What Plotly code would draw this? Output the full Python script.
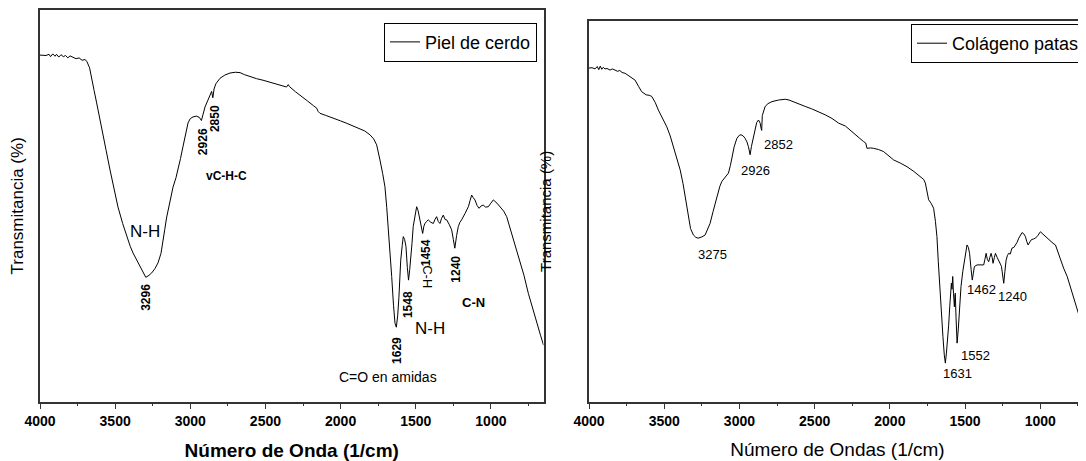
import plotly.graph_objects as go

# ---------------- data ----------------
piel_wn = [4000, 3960, 3940, 3930, 3915, 3900, 3890, 3875, 3860, 3845, 3830, 3815, 3800, 3780, 3760, 3740,
           3720, 3700, 3687, 3670, 3656, 3640, 3623, 3605, 3590, 3560, 3534, 3505, 3481, 3450, 3423, 3400,
           3381, 3348, 3320, 3296, 3275, 3257, 3235, 3215, 3195, 3182, 3170, 3157, 3135, 3115, 3095, 3082,
           3065, 3049, 3030, 3015, 3000, 2982, 2960, 2940, 2926, 2915, 2902, 2885, 2869, 2858, 2850, 2842,
           2830, 2815, 2802, 2770, 2736, 2700, 2669, 2640, 2603, 2560, 2516, 2470, 2425, 2390, 2360, 2348,
           2340, 2300, 2270, 2220, 2180, 2159, 2150, 2137, 2100, 2050, 2000, 1959, 1920, 1871, 1840, 1804,
           1780, 1760, 1748, 1738, 1720, 1705, 1693, 1683, 1670, 1660, 1648, 1638, 1629, 1620, 1612, 1600,
           1590, 1583, 1574, 1565, 1556, 1548, 1540, 1534, 1525, 1517, 1505, 1494, 1485, 1476, 1465, 1454,
           1446, 1439, 1428, 1417, 1400, 1383, 1372, 1361, 1350, 1339, 1328, 1317, 1305, 1294, 1278, 1261,
           1250, 1240, 1228, 1217, 1206, 1195, 1172, 1150, 1138, 1128, 1118, 1106, 1092, 1079, 1065, 1051,
           1035, 1017, 1000, 984, 960, 939, 915, 895, 873, 851, 830, 806, 780, 751, 720, 696, 670, 650]
piel_t = [88.7, 88.6, 88.9, 88.3, 89.0, 88.4, 88.9, 88.2, 88.8, 88.3, 88.6, 88.0, 88.5, 88.1, 87.8, 88.0,
          87.4, 87.6, 87.0, 85.5, 82.5, 79.8, 76.7, 73.5, 70.7, 64.8, 59.9, 54.5, 50.6, 46.5, 43.1, 40.8,
          39.1, 36.6, 34.5, 33.0, 33.5, 34.1, 35.2, 36.6, 39.0, 41.6, 45.0, 48.1, 52.5, 55.6, 58.0, 59.9,
          62.8, 65.7, 69.0, 71.7, 72.8, 73.2, 73.4, 73.1, 72.3, 74.2, 75.7, 77.2, 78.7, 79.6, 78.0, 80.2,
          81.5, 82.3, 82.9, 83.7, 84.2, 84.4, 84.3, 83.8, 83.3, 82.8, 82.4, 81.9, 81.4, 81.0, 80.7, 81.3,
          80.8, 79.5, 78.7, 77.2, 76.0, 75.4, 74.6, 74.1, 73.6, 72.8, 72.2, 71.6, 71.0, 70.3, 69.7, 68.7,
          67.7, 66.2, 64.5, 62.4, 59.0, 55.7, 50.5, 45.7, 39.0, 33.2, 26.0, 21.5, 20.5, 23.5, 28.0, 37.3,
          41.0, 43.2, 42.5, 40.7, 35.5, 32.3, 35.0, 37.3, 41.5, 45.7, 49.0, 50.7, 49.8, 48.2, 46.0, 44.0,
          45.8, 46.5, 47.0, 47.4, 46.8, 46.5, 47.5, 48.2, 47.0, 46.5, 47.8, 48.6, 47.5, 47.4, 46.3, 44.9,
          42.5, 40.3, 43.5, 45.7, 46.8, 47.4, 49.0, 50.7, 52.3, 53.6, 53.0, 52.4, 51.0, 50.3, 50.9, 51.1,
          50.6, 50.7, 51.6, 52.4, 51.6, 50.7, 49.6, 48.2, 45.5, 42.4, 39.9, 37.3, 33.5, 29.0, 24.8, 21.5,
          18.5, 16.0]

pat_wn = [4000, 3980, 3960, 3945, 3935, 3925, 3915, 3905, 3894, 3880, 3860, 3845, 3827, 3810, 3795, 3780,
          3760, 3740, 3720, 3694, 3670, 3650, 3620, 3600, 3583, 3560, 3539, 3510, 3483, 3460, 3439, 3415,
          3394, 3375, 3361, 3350, 3339, 3325, 3306, 3290, 3275, 3250, 3228, 3210, 3195, 3175, 3150, 3130,
          3117, 3095, 3073, 3060, 3050, 3035, 3017, 3000, 2989, 2975, 2962, 2950, 2940, 2929, 2920, 2911,
          2900, 2895, 2885, 2873, 2862, 2856, 2852, 2848, 2840, 2829, 2810, 2784, 2740, 2696, 2670, 2641,
          2600, 2563, 2520, 2474, 2430, 2385, 2340, 2296, 2270, 2241, 2200, 2175, 2160, 2152, 2130, 2108,
          2075, 2042, 2010, 1975, 1930, 1886, 1840, 1798, 1775, 1764, 1755, 1742, 1725, 1709, 1697, 1687,
          1678, 1669, 1658, 1647, 1638, 1631, 1624, 1616, 1609, 1602, 1596, 1591, 1587, 1582, 1577, 1571,
          1568, 1565, 1560, 1553, 1545, 1538, 1527, 1515, 1505, 1495, 1487, 1478, 1470, 1460, 1452, 1445,
          1438, 1420, 1410, 1390, 1376, 1368, 1360, 1352, 1343, 1335, 1327, 1320, 1314, 1305, 1298, 1287,
          1276, 1265, 1258, 1250, 1243, 1235, 1227, 1218, 1210, 1200, 1188, 1175, 1165, 1155, 1143, 1132,
          1121, 1110, 1099, 1090, 1081, 1070, 1060, 1045, 1032, 1015, 999, 982, 965, 950, 932, 915,
          899, 880, 866, 845, 821, 800, 777, 755, 733, 715, 696]
pat_t = [85.4, 85.5, 85.2, 85.8, 85.0, 85.9, 85.1, 85.6, 85.2, 85.3, 84.9, 85.2, 84.9, 84.6, 84.8, 84.3,
         84.1, 83.6, 83.0, 82.4, 80.8, 79.5, 78.7, 78.6, 78.3, 76.8, 74.9, 72.9, 70.7, 68.4, 65.7, 62.8,
         59.9, 56.5, 53.2, 50.2, 47.4, 45.2, 43.6, 43.0, 42.8, 43.1, 43.6, 45.0, 46.5, 49.5, 53.2, 55.8,
         57.0, 58.2, 59.1, 61.0, 63.2, 65.7, 67.8, 68.6, 68.7, 68.4, 67.8, 66.9, 65.7, 63.7, 65.8, 67.4,
         69.8, 70.7, 71.8, 72.4, 71.6, 70.3, 69.8, 73.5, 74.8, 75.8, 76.5, 77.0, 77.4, 77.6, 77.4, 77.0,
         76.5, 75.8, 75.2, 74.5, 73.7, 72.8, 71.6, 70.9, 70.0, 69.1, 67.8, 67.0, 66.6, 65.3, 65.4, 65.3,
         65.0, 64.5, 63.5, 62.4, 61.6, 60.7, 59.5, 58.2, 57.5, 56.6, 54.5, 52.4, 51.5, 50.3, 47.0, 43.2,
         37.0, 30.7, 24.0, 18.1, 13.5, 11.5, 14.0, 17.3, 21.0, 25.6, 29.0, 31.5, 30.0, 33.2, 29.0, 25.6,
         28.0, 29.0, 23.0, 16.5, 20.0, 24.0, 30.7, 34.5, 37.3, 39.5, 41.1, 40.5, 39.0, 35.0, 32.3, 34.0,
         35.7, 36.1, 36.1, 36.1, 36.1, 37.5, 39.0, 37.5, 36.9, 38.0, 39.0, 38.0, 36.5, 38.0, 39.0, 38.0,
         36.9, 36.3, 35.7, 33.5, 31.5, 34.5, 37.3, 38.5, 39.0, 38.8, 40.3, 40.5, 41.1, 41.7, 42.8, 43.6,
         44.2, 43.9, 43.2, 42.0, 41.1, 41.8, 42.4, 42.6, 42.8, 43.5, 44.4, 43.8, 43.2, 42.6, 41.9, 41.5,
         41.1, 39.0, 37.3, 35.3, 33.2, 30.7, 28.1, 25.2, 22.3, 19.8, 15.6]

tick_vals = [4000, 3500, 3000, 2500, 2000, 1500, 1000]
tick_text = ["4000", "3500", "3000", "2500", "2000", "1500", "1000"]

# peak labels: (text, wavenumber, transmittance, angle, size, bold)
piel_labels = [
    ("N-H", 3301, 44.4, 0, 17, False),
    ("3296", 3295, 28.1, -90, 12, True),
    ("2926", 2915, 66.9, -90, 12, True),
    ("2850", 2836, 72.9, -90, 12, True),
    ("vC-H-C", 2758, 58.5, 0, 12, True),
    ("1629", 1625, 14.8, -90, 12, True),
    ("1548", 1550, 26.1, -90, 12, True),
    ("1454", 1434, 39.2, -90, 12, True),
    ("C-H", 1427, 33.1, 90, 13, False),
    ("1240", 1234, 35.1, -90, 12, True),
    ("N-H", 1405, 20.3, 0, 17, False),
    ("C-N", 1119, 26.6, 0, 13, True),
    ("C=O en amidas", 1685, 8.0, 0, 14, False),
]
pat_labels = [
    ("3275", 3177, 38.6),
    ("2926", 2895, 59.7),
    ("2852", 2740, 66.3),
    ("1631", 1553, 8.9),
    ("1552", 1432, 13.5),
    ("1462", 1394, 30.0),
    ("1240", 1183, 28.1),
]

# ---------------- layout geometry (pixels) ----------------
# The page body has an 8px default margin, so the figure is shrunk by that amount
# and all window-pixel positions are shifted by it.
OFF = 8
WIN_W, WIN_H = 1086, 461
W, H = WIN_W - OFF, WIN_H - OFF
FONT = "Liberation Sans, Arial, sans-serif"


def fx(px):
    return (px - OFF) / W


def fy(py):
    return (H - (py - OFF)) / H


fig = go.Figure()
fig.add_trace(go.Scatter(x=piel_wn, y=piel_t, mode="lines", name="Piel de cerdo",
                         line=dict(color="black", width=1), xaxis="x", yaxis="y", legend="legend"))
fig.add_trace(go.Scatter(x=pat_wn, y=pat_t, mode="lines", name="Colágeno patas",
                         line=dict(color="black", width=1), xaxis="x2", yaxis="y2", legend="legend2"))

axis_common = dict(showgrid=False, zeroline=False, showline=True, linecolor="#333", linewidth=1.5,
                   automargin=False)

fig.update_layout(
    width=W, height=H,
    margin=dict(l=0, r=0, t=0, b=0, autoexpand=False),
    paper_bgcolor="white", plot_bgcolor="white",
    font=dict(family=FONT, color="black"),
    xaxis=dict(domain=[fx(40), fx(543.5)], range=[4000, 650], anchor="y",
               tickvals=tick_vals, ticktext=tick_text, ticks="outside", ticklen=6, tickwidth=1.2,
               tickcolor="#333", mirror=True,
               tickfont=dict(size=14, family="Liberation Sans, Arial", weight="bold"),
               minor=dict(dtick=250, tick0=0, ticks="outside", ticklen=3, tickcolor="#333"),
               title=dict(text="<b>Número de Onda (1/cm)</b>", font=dict(size=19), standoff=16),
               **axis_common),
    yaxis=dict(domain=[fy(401.7), fy(10)], range=[1.83, 100.0], anchor="x",
               showticklabels=False, ticks="", mirror=True,
               title=dict(text="Transmitancia (%)", font=dict(size=17), standoff=10),
               **axis_common),
    xaxis2=dict(domain=[fx(589), 1.0], range=[4000, 696], anchor="y2",
                tickvals=tick_vals, ticktext=tick_text, ticks="outside", ticklen=6, tickwidth=1.2,
                tickcolor="#333", mirror=True,
                tickfont=dict(size=14, family="Liberation Sans, Arial", weight="bold"),
                minor=dict(dtick=250, tick0=0, ticks="outside", ticklen=3, tickcolor="#333"),
                title=dict(text="Número de Ondas (1/cm)", font=dict(size=19), standoff=14),
                **axis_common),
    yaxis2=dict(domain=[fy(401.7), fy(21)], range=[1.83, 97.2], anchor="x2",
                showticklabels=False, ticks="", mirror=False,
                title=dict(text="Transmitancia (%)", font=dict(size=15), standoff=32),
                **axis_common),
    legend=dict(x=fx(537), y=fy(22.7), xanchor="right", yanchor="top",
                bgcolor="white", bordercolor="black", borderwidth=1,
                font=dict(size=18), itemwidth=30, tracegroupgap=0),
    legend2=dict(x=fx(1085), y=fy(24), xanchor="right", yanchor="top",
                 bgcolor="white", bordercolor="black", borderwidth=1,
                 font=dict(size=18), itemwidth=30, tracegroupgap=0),
    showlegend=True,
)

for text, xw, yt, ang, size, bold in piel_labels:
    fig.add_annotation(x=xw, y=yt, xref="x", yref="y", text=f"<b>{text}</b>" if bold else text,
                       showarrow=False, textangle=ang, font=dict(size=size, color="black"))

for text, xw, yt in pat_labels:
    fig.add_annotation(x=xw, y=yt, xref="x2", yref="y2", text=text,
                       showarrow=False, font=dict(size=13, color="black"))

fig.write_html("out.html")
